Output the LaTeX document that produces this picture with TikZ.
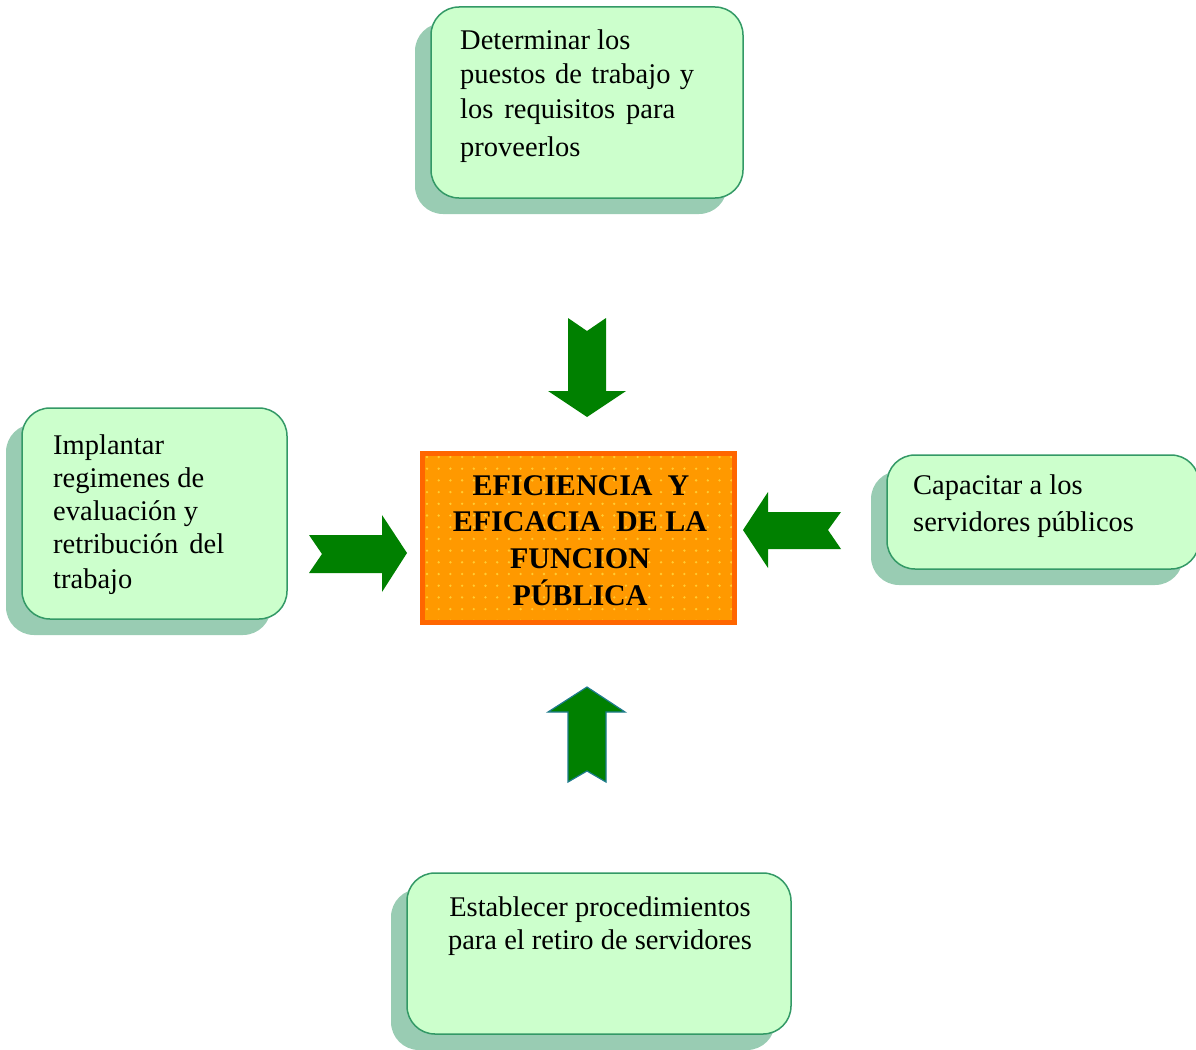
\documentclass[tikz,border=0pt]{standalone}
\usepackage{fontspec}
\setmainfont{Liberation Serif}
\usetikzlibrary{shadows}
\definecolor{boxfill}{HTML}{CCFFCC}
\definecolor{boxline}{HTML}{339966}
\definecolor{shadowgreen}{HTML}{99CCB3}
\definecolor{arrowgreen}{HTML}{008000}
\definecolor{arrowrim}{HTML}{1E7B8C}
\definecolor{coreorange}{HTML}{FF9900}
\definecolor{coreline}{HTML}{FF6600}
\definecolor{coredot}{HTML}{FFCC33}
\tikzset{
  greenbox/.style={draw=boxline, line width=1.5pt, fill=boxfill, rounded corners=28pt,
    inner sep=0pt, outer sep=0pt,
    drop shadow={shadow xshift=-16pt, shadow yshift=-16pt, fill=shadowgreen, opacity=1}},
  txt/.style={font=\fontsize{28.5}{34}\selectfont, anchor=base west, inner sep=0pt},
  ctxt/.style={font=\fontsize{28.5}{34}\selectfont, anchor=base, inner sep=0pt},
  coretxt/.style={font=\fontsize{30}{36}\selectfont\bfseries, anchor=base, inner sep=0pt},
  blockarrow/.style={fill=arrowgreen},
}
\begin{document}
\begin{tikzpicture}[x=1pt, y=-1pt]
\useasboundingbox (0,0) rectangle (1196,1049);

% rounded task boxes with their offset shadows
\node[greenbox, minimum width=312pt, minimum height=191pt] (top) at (587,102.5) {};
\node[greenbox, minimum width=265pt, minimum height=211pt] (left) at (154.5,513.5) {};
\node[greenbox, minimum width=312pt, minimum height=114pt] (right) at (1043,512) {};
\node[greenbox, minimum width=384pt, minimum height=161pt] (bottom) at (599,953.5) {};

% central box: orange with a dotted fill
\node[fill=coreorange, minimum width=312pt, minimum height=169pt, inner sep=0pt, outer sep=0pt] (core) at (578.5,538) {};
\begin{scope}
  \clip (core.south west) rectangle (core.north east);
  \foreach \i in {0,...,27} {
    \foreach \j in {0,...,14} {
      \fill[coredot] (427+\i*11.7, 457+\j*11.7) circle (1.3pt);
    }
  }
\end{scope}
\draw[coreline, line width=5pt] (core.south west) rectangle (core.north east);

% texts
\node[txt] (t1) at (460,50) {Determinar los};
\node[txt] (t2) at (460,84) {\makebox[234pt][s]{puestos de trabajo y}};
\node[txt] (t3) at (460,118) {\makebox[215pt][s]{los requisitos para}};
\node[txt] (t4) at (460,156) {proveerlos};

\node[txt] (l1) at (53,454) {Implantar};
\node[txt] (l2) at (53,487) {regimenes de};
\node[txt] (l3) at (53,520) {evaluación y};
\node[txt] (l4) at (53,553) {\makebox[171pt][s]{retribución del}};
\node[txt] (l5) at (53,588) {trabajo};

\node[txt] (r1) at (913,494) {Capacitar a los};
\node[txt] (r2) at (913,531) {servidores públicos};

\node[ctxt] (b1) at (600,916) {Establecer procedimientos};
\node[ctxt] (b2) at (600,949) {para el retiro de servidores};

\node[coretxt] (c1) at (581,495) {EFICIENCIA\ \ Y};
\node[coretxt] (c2) at (580,531) {EFICACIA\ \ DE LA};
\node[coretxt] (c3) at (580,568) {FUNCION};
\node[coretxt] (c4) at (580,605) {PÚBLICA};

% notched block arrows pointing at the central box
\fill[blockarrow] (568,318) -- (587,331) -- (606,318) -- (606,391) -- (626,391)
  -- (587,417) -- (548,391) -- (568,391) -- cycle;
\filldraw[blockarrow, draw=arrowrim, line width=1.2pt] (568,782) -- (587,771) -- (606,782)
  -- (606,712) -- (625,712) -- (587,687) -- (548,712) -- (568,712) -- cycle;
\fill[blockarrow] (309,535) -- (382,535) -- (382,515) -- (407,553) -- (382,592)
  -- (382,573) -- (309,573) -- (322,554) -- cycle;
\fill[blockarrow] (841,512) -- (768,512) -- (768,492) -- (743,530) -- (768,568)
  -- (768,549) -- (841,549) -- (828,530) -- cycle;
\end{tikzpicture}
\end{document}
